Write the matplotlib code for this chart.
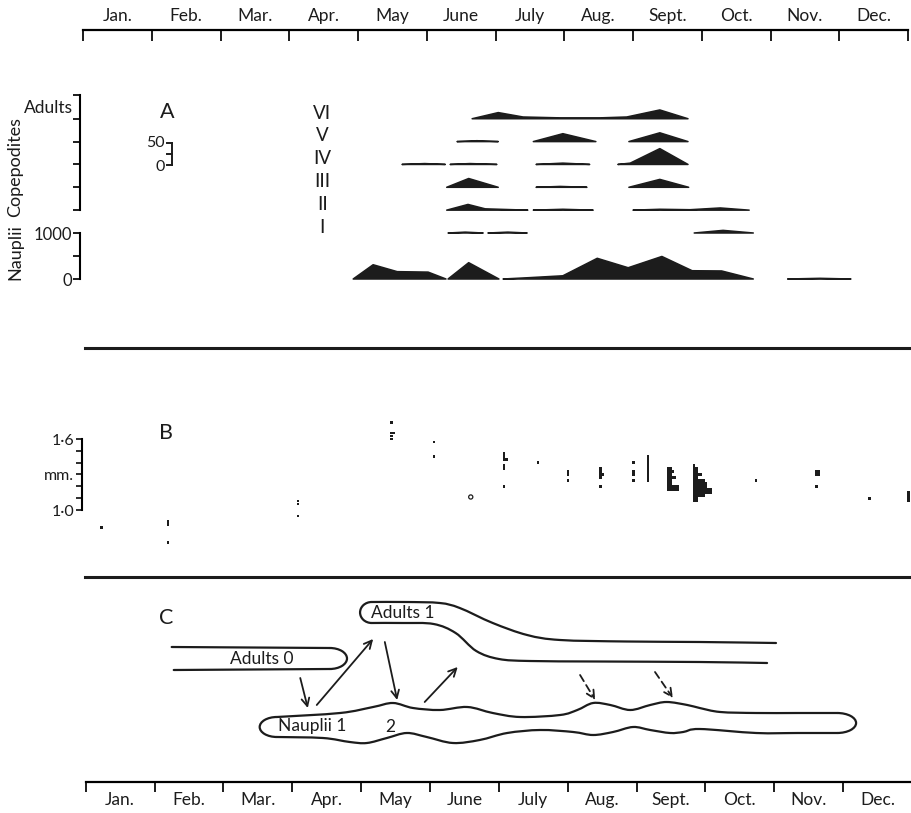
import numpy as np
import matplotlib
matplotlib.use('Agg')
import matplotlib.pyplot as plt
from matplotlib.patches import Arc, PathPatch
from matplotlib.path import Path
from matplotlib.lines import Line2D

plt.rcParams['font.family'] = ['Lato', 'DejaVu Sans']

ink = '#1c1c1c'

# time axis: months counted from 1 January
months = ['Jan.', 'Feb.', 'Mar.', 'Apr.', 'May', 'June', 'July',
          'Aug.', 'Sept.', 'Oct.', 'Nov.', 'Dec.']

# --- A: copepodite stages (numbers), one list of segments per stage ---
stage_names = ['I', 'II', 'III', 'IV', 'V', 'VI']
c1_t = [[5.31, 5.56, 5.82], [5.89, 6.18, 6.46], [8.89, 9.31, 9.75]]
c1_n = [[0, 2, 0], [0, 2, 0], [0, 6, 0]]
c2_t = [[5.29, 5.60, 5.85, 6.47], [6.55, 6.98, 7.42], [8.0, 8.39, 8.83, 9.27, 9.69]]
c2_n = [[0, 13, 3, 0], [0, 2, 0], [0, 2, 1, 5, 0]]
c3_t = [[5.29, 5.61, 6.04], [6.59, 6.94, 7.33], [7.94, 8.39, 8.81]]
c3_n = [[0, 20, 0], [0, 2, 0], [0, 18, 0]]
c4_t = [[4.64, 4.97, 5.27], [5.34, 5.63, 6.02], [6.59, 6.98, 7.37], [7.78, 7.96, 8.39, 8.80]]
c4_n = [[0, 2, 0], [0, 2, 0], [0, 3, 0], [0, 3, 36, 0]]
c5_t = [[5.44, 5.73, 6.04], [6.55, 6.98, 7.46], [7.94, 8.39, 8.80]]
c5_n = [[0, 2, 0], [0, 18, 0], [0, 20, 0]]
c6_t = [[5.66, 6.04, 6.40, 6.94, 7.52, 7.91, 8.39, 8.80]]
c6_n = [[0, 14, 4, 2, 2, 4, 20, 0]]

# nauplii (numbers)
naup_t = [[3.93, 4.22, 4.57, 5.02, 5.28], [5.31, 5.61, 6.05],
          [6.11, 6.50, 6.98, 7.48, 7.93, 8.42, 8.86, 9.29, 9.75],
          [10.25, 10.72, 11.17]]
naup_n = [[0, 310, 160, 150, 0], [0, 355, 0],
          [0, 30, 70, 450, 245, 490, 180, 175, 0],
          [0, 15, 0]]

# --- B: size (mm) of individuals per sample date ---
b_t = [0.25,
       1.22, 1.22, 1.22,
       3.11, 3.11, 3.11,
       4.47, 4.47, 4.47, 4.47,
       5.09, 5.09,
       6.11, 6.11, 6.11, 6.11, 6.11, 6.11,
       6.60,
       7.04, 7.04, 7.04,
       7.51, 7.51, 7.51, 7.51, 7.51,
       7.99, 7.99, 7.99, 7.99,
       8.20, 8.20, 8.20, 8.20, 8.20, 8.20, 8.20, 8.20, 8.20,
       8.49, 8.49, 8.49, 8.49, 8.49, 8.49, 8.49, 8.49,
       8.87, 8.87, 8.87, 8.87, 8.87, 8.87, 8.87, 8.87, 8.87, 8.87, 8.87, 8.87, 8.87,
       9.77,
       10.65, 10.65, 10.65,
       11.42,
       11.99, 11.99, 11.99, 11.99]
b_mm = [0.85,
        0.90, 0.875, 0.725,
        1.075, 1.05, 0.95,
        1.74, 1.65, 1.625, 1.60,
        1.575, 1.45,
        1.475, 1.45, 1.425, 1.375, 1.35, 1.20,
        1.40,
        1.325, 1.30, 1.25,
        1.35, 1.325, 1.30, 1.275, 1.20,
        1.40, 1.325, 1.30, 1.25,
        1.45, 1.425, 1.40, 1.375, 1.35, 1.325, 1.30, 1.275, 1.25,
        1.35, 1.325, 1.30, 1.275, 1.25, 1.225, 1.20, 1.175,
        1.375, 1.35, 1.325, 1.30, 1.275, 1.25, 1.225, 1.20, 1.175, 1.15, 1.125, 1.10, 1.075,
        1.25,
        1.325, 1.30, 1.20,
        1.10,
        1.15, 1.125, 1.10, 1.075]
b_n = [1,
       1, 1, 1,
       1, 1, 1,
       1, 2, 1, 1,
       1, 1,
       1, 1, 2, 1, 1, 1,
       1,
       1, 1, 1,
       1, 1, 2, 1, 1,
       1, 1, 1, 1,
       1, 1, 1, 1, 1, 1, 1, 1, 1,
       2, 3, 2, 4, 2, 2, 5, 5,
       1, 2, 2, 4, 2, 5, 6, 6, 8, 8, 5, 2, 2,
       1,
       2, 2, 1,
       1,
       1, 1, 1, 1]
b_open_t = [5.64]
b_open_mm = [1.11]

# --- C: scheme of the generations ---
a1_top_t = [4.20, 4.70, 5.19, 5.48, 5.96, 6.46, 6.94, 7.90, 8.97, 10.08]
a1_top_y = [148, 148, 147, 142, 127, 115, 110, 108.5, 108, 107]
a1_bot_t = [4.20, 4.65, 5.10, 5.42, 5.72, 6.05, 6.50, 7.50, 8.97, 9.95]
a1_bot_y = [127, 127, 126, 117, 99, 91, 89, 88.5, 88, 87]
a0_top_t = [1.29, 3.59]
a0_top_y = [103, 102]
a0_bot_t = [1.32, 3.59]
a0_bot_y = [80, 81]
n_top_t = [2.82, 3.74, 4.22, 4.51, 4.80, 5.19, 5.59, 5.96, 6.36, 6.94, 7.19, 7.42,
           7.67, 7.96, 8.25, 8.49, 8.79, 8.97, 9.27, 9.79, 10.40, 10.97]
n_top_y = [33, 37, 43, 47, 42, 40, 43, 37, 33, 35, 40, 47,
           45, 40, 45, 48, 45, 42, 38, 37, 37, 37]
n_bot_t = [2.82, 3.49, 3.88, 4.13, 4.42, 4.71, 5.0, 5.38, 5.77, 6.17, 6.65, 7.13,
           7.42, 7.71, 8.0, 8.25, 8.54, 8.73, 8.97, 9.79, 10.40, 10.97]
n_bot_y = [13, 12, 8, 7, 12, 17, 13, 7, 10, 17, 20, 18,
           15, 18, 23, 20, 17, 18, 21, 17, 17, 17]
arrow_x0 = [3.16, 3.40, 4.39, 4.97, 7.23, 8.32]
arrow_y0 = [72, 45, 108, 48, 75, 78]
arrow_x1 = [3.27, 4.22, 4.57, 5.45, 7.45, 8.58]
arrow_y1 = [42, 111, 50, 83, 50, 52]
arrow_dashed = [False, False, False, False, True, True]

# ------------------------------------------------------------------
W, H = 912, 813
fig = plt.figure(figsize=(W / 100, H / 100), dpi=100)
fig.patch.set_facecolor('white')
XLIM = (-83 / 68.75, (W - 83) / 68.75)


def band(top_px, bot_px):
    ax = fig.add_axes([0, 1 - bot_px / H, 1, (bot_px - top_px) / H])
    ax.set_xlim(*XLIM)
    ax.patch.set_visible(False)
    for s in ('top', 'right', 'bottom', 'left'):
        ax.spines[s].set_visible(False)
    ax.xaxis.set_visible(False)
    ax.set_yticks([])
    return ax


def smooth(xs, ys):
    # Catmull-Rom through the points, drawn as cubic Bezier pieces
    p = np.column_stack([xs, ys]).astype(float)
    verts, codes = [p[0]], [Path.MOVETO]
    for i in range(len(p) - 1):
        p0 = p[i - 1] if i > 0 else p[i]
        p3 = p[i + 2] if i + 2 < len(p) else p[i + 1]
        verts += [p[i] + (p[i + 1] - p0) / 6, p[i + 1] - (p3 - p[i]) / 6, p[i + 1]]
        codes += [Path.CURVE4] * 3
    return Path(verts, codes)


# time axes top and bottom
axTop = fig.add_axes([0, 1 - 30 / H - 0.02, 1, 0.02])
axBot = fig.add_axes([0, 1 - 782 / H, 1, 0.02])
for ax, lim in ((axTop, XLIM), (axBot, (-86 / 69.1, (W - 86) / 69.1))):
    ax.set_xlim(*lim)
    ax.patch.set_visible(False)
    ax.set_yticks([])
    for s in ('top', 'right', 'bottom', 'left'):
        ax.spines[s].set_visible(False)
    ax.set_xticks(range(13))
    ax.set_xticklabels([''] * 13)
    ax.set_xticks(np.arange(0.5, 12, 1), minor=True)
    ax.set_xticklabels(months, minor=True)
axTop.spines['top'].set_visible(True)
axTop.spines['top'].set_bounds(0, 12)
axTop.spines['top'].set_linewidth(1.6)
axTop.xaxis.set_ticks_position('top')
axTop.tick_params(which='major', direction='in', length=8, width=1.4, color=ink)
axTop.tick_params(which='minor', length=0, pad=4, labelsize=12.5, labelcolor=ink)
axBot.spines['bottom'].set_visible(True)
axBot.spines['bottom'].set_bounds(0, 12)
axBot.spines['bottom'].set_linewidth(1.6)
axBot.tick_params(which='major', direction='out', length=7.5, width=1.4, color=ink)
axBot.tick_params(which='minor', length=0, pad=7, labelsize=12.5, labelcolor=ink)

# panel separators
for y in (348, 577):
    fig.add_artist(Line2D([85 / W, 1], [1 - y / H, 1 - y / H], color=ink, lw=2.2,
                          transform=fig.transFigure))

# ---------------- A ----------------
row_step = 52
axA = band(95, 233)
axA.set_ylim(0, 314)
axA.spines['left'].set_visible(True)
axA.spines['left'].set_position(('data', -0.044))
axA.spines['left'].set_bounds(row_step, 314)
axA.spines['left'].set_linewidth(1.5)
axA.set_yticks([row_step * k for k in range(1, 6)] + [314])
axA.set_yticklabels([])
axA.tick_params(axis='y', direction='out', length=5, width=1.4, color=ink)

stage_t = [c1_t, c2_t, c3_t, c4_t, c5_t, c6_t]
stage_n = [c1_n, c2_n, c3_n, c4_n, c5_n, c6_n]
for k, (segs_t, segs_n) in enumerate(zip(stage_t, stage_n)):
    base = k * row_step
    for t, n in zip(segs_t, segs_n):
        xs = list(t) + [t[-1], t[0]]
        ys = [base + v for v in n] + [base, base]
        axA.fill(xs, ys, fc=ink, ec=ink, lw=1.1, joinstyle='round', clip_on=False)
    axA.text(3.48, base + 13, stage_names[k], ha='center', va='center',
             fontsize=13.5, color=ink)

axA.text(-0.15, 284, 'Adults', ha='right', va='center', fontsize=12.5, color=ink)
axA.text(1.22, 275, 'A', ha='center', va='center', fontsize=15.5, color=ink)

# 50 individuals scale bar
scale_vals = [0, 25, 50]
sb_x, sb_base = 1.29, 155
axA.plot([sb_x, sb_x], [sb_base + scale_vals[0], sb_base + scale_vals[-1]], color=ink, lw=1.4)
for v in scale_vals:
    axA.plot([sb_x - 0.07, sb_x], [sb_base + v] * 2, color=ink, lw=1.4)
axA.text(sb_x - 0.1, sb_base + 50, '50', ha='right', va='center', fontsize=11.5, color=ink)
axA.text(sb_x - 0.1, sb_base - 4, '0', ha='right', va='center', fontsize=11.5, color=ink)

axN = band(233, 279)
axN.set_ylim(0, 1000)
axN.spines['left'].set_visible(True)
axN.spines['left'].set_position(('data', -0.044))
axN.spines['left'].set_bounds(0, 1000)
axN.spines['left'].set_linewidth(1.5)
axN.set_yticks([0, 500, 1000])
axN.set_yticklabels(['0', '', '1000'])
axN.tick_params(axis='y', direction='out', length=5, width=1.4, color=ink,
                labelsize=12, labelcolor=ink, pad=1)
for t, n in zip(naup_t, naup_n):
    axN.fill(list(t) + [t[-1], t[0]], list(n) + [0, 0], fc=ink, ec=ink, lw=1.1,
             joinstyle='round', clip_on=False)

fig.text(15 / W, 1 - 167 / H, 'Copepodites', rotation=90, ha='center', va='center',
         fontsize=13, color=ink)
fig.text(15 / W, 1 - 252 / H, 'Nauplii', rotation=90, ha='center', va='center',
         fontsize=13, color=ink)

# ---------------- B ----------------
axB = band(439, 510)
axB.set_ylim(1.0, 1.6)
axB.spines['left'].set_visible(True)
axB.spines['left'].set_position(('data', -0.015))
axB.spines['left'].set_bounds(1.0, 1.6)
axB.spines['left'].set_linewidth(1.5)
axB.set_yticks([1.0, 1.1, 1.2, 1.3, 1.4, 1.5, 1.6])
axB.set_yticklabels(['1·0', '', '', 'mm.', '', '', '1·6'])
axB.tick_params(axis='y', direction='out', length=4.5, width=1.3, color=ink,
                labelsize=11.5, labelcolor=ink, pad=1)
axB.barh(b_mm, [n * 0.035 for n in b_n], height=0.023, left=b_t,
         color=ink, lw=0, clip_on=False)
axB.scatter(b_open_t, b_open_mm, s=9, facecolors='none', edgecolors=ink,
            linewidths=0.9, clip_on=False)
axB.text(1.21, 1.65, 'B', ha='center', va='center', fontsize=15.5, color=ink)

# ---------------- C ----------------
axC = band(590, 750)
axC.set_ylim(0, 160)
lw_c = 1.6
for xs, ys in ((a1_top_t, a1_top_y), (a1_bot_t, a1_bot_y), (a0_top_t, a0_top_y),
               (a0_bot_t, a0_bot_y), (n_top_t, n_top_y), (n_bot_t, n_bot_y)):
    axC.add_patch(PathPatch(smooth(xs, ys), fill=False, ec=ink, lw=lw_c,
                            capstyle='round', clip_on=False))
# rounded ends of the bands
caps = [(a1_top_t[0], (a1_top_y[0] + a1_bot_y[0]) / 2, 0.34, a1_top_y[0] - a1_bot_y[0], 90, 270),
        (a0_top_t[-1], (a0_top_y[-1] + a0_bot_y[-1]) / 2, 0.5, a0_top_y[-1] - a0_bot_y[-1], -90, 90),
        (n_top_t[0], (n_top_y[0] + n_bot_y[0]) / 2, 0.5, n_top_y[0] - n_bot_y[0], 90, 270),
        (n_top_t[-1], (n_top_y[-1] + n_bot_y[-1]) / 2, 0.55, n_top_y[-1] - n_bot_y[-1], -90, 90)]
for cx, cy, w, h, th1, th2 in caps:
    axC.add_patch(Arc((cx, cy), w, h, theta1=th1, theta2=th2, ec=ink, lw=lw_c,
                      clip_on=False))

for x0, y0, x1, y1, dashed in zip(arrow_x0, arrow_y0, arrow_x1, arrow_y1, arrow_dashed):
    props = dict(arrowstyle='->', color=ink, lw=1.3, shrinkA=0, shrinkB=0,
                 mutation_scale=14)
    if dashed:
        props['linestyle'] = (0, (4, 2.5))
    axC.annotate('', xy=(x1, y1), xytext=(x0, y0), arrowprops=props)

axC.text(1.21, 132, 'C', ha='center', va='center', fontsize=15.5, color=ink)
axC.text(4.65, 137, 'Adults 1', ha='center', va='center', fontsize=12.5, color=ink)
axC.text(2.60, 91, 'Adults 0', ha='center', va='center', fontsize=12.5, color=ink)
axC.text(3.33, 24, 'Nauplii 1', ha='center', va='center', fontsize=12.5, color=ink)
axC.text(4.47, 23, '2', ha='center', va='center', fontsize=12.5, color=ink)

fig.savefig('out.png', dpi=100, facecolor='white')
